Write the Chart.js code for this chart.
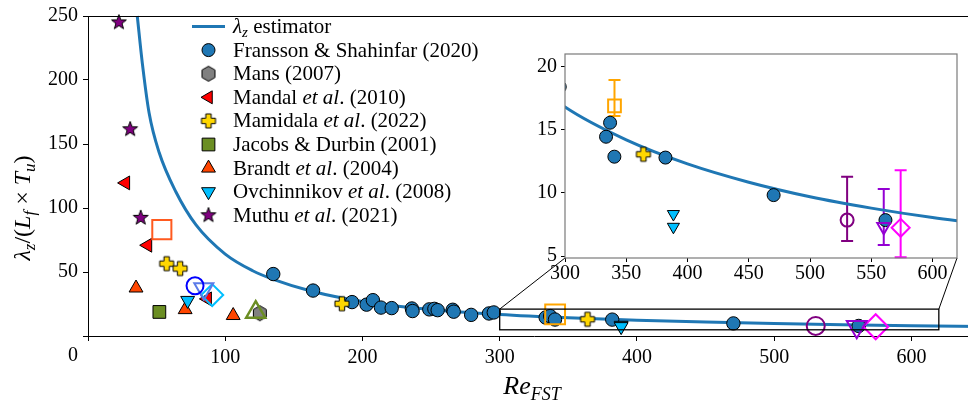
<!DOCTYPE html>
<html lang="en">
<head>
<meta charset="UTF-8">
<title>lambda_z estimator vs Re_FST</title>
<script src="https://cdn.jsdelivr.net/npm/chart.js"></script>
<style>
  html, body { margin: 0; padding: 0; background: #fff; overflow: hidden; }
  #wrap { position: relative; width: 968px; height: 410px; overflow: hidden; }
  #main { position: absolute; left: 0; top: 0; }
  #inset { position: absolute; left: 520px; top: 40px; }
</style>
</head>
<body>
<div id="wrap">
  <canvas id="main" width="996" height="410"></canvas>
  <canvas id="inset" width="448" height="250"></canvas>
</div>
<script>
// values
const estX = [35.9, 39.6, 44.5, 51.8, 64, 78.7, 100, 120, 135, 163, 200, 250, 300, 350, 400, 450, 500, 550, 600, 650];
const estY = [250, 213, 174.4, 143.5, 112.7, 86.8, 64, 51, 44.3, 35, 27, 20.7, 16.8, 14.2, 12.3, 10.85, 9.7, 8.8, 8.05, 7.45];

const fransX = [135, 164, 192.4, 203, 207.6, 213.5, 221.3, 236, 236.5, 248.7, 252.4, 254.8, 265.8, 266.5, 279.2, 292.2, 295.7, 333.5, 336.8, 340.3, 382, 470.3, 561.6];
const fransY = [48.4, 35.5, 26.5, 24.5, 28, 22.2, 21.8, 21.5, 19.5, 20.8, 21.2, 20.2, 20.5, 19, 16.5, 17.6, 18.4, 14.45, 15.56, 12.87, 12.8, 9.83, 7.85];
const mansX = [125.2];
const mansY = [17.8];
const mandalX = [27.4, 43.5, 87];
const mandalY = [119.6, 70.9, 29];
const mamidalaX = [57.3, 67.1, 185, 364];
const mamidalaY = [56.5, 52.7, 25.2, 13.06];
const jacobsX = [52];
const jacobsY = [18.8];
const brandtX = [35, 70.8, 105.8];
const brandtY = [37.5, 20.6, 16];
const ovchX = [72.6, 388.5, 388.5];
const ovchY = [27.8, 8.33, 7.32];
const muthuX = [22.5, 30.7, 38.4];
const muthuY = [245, 161.5, 92.3];

// unlabelled open markers
const openX = [53.8, 78, 84.4, 90.5, 122.2];
const openY = [83.1, 39.3, 37, 32, 18.6];
// open markers with error bars (shown in the inset)
const errX = [340.4, 530.3, 560.2, 574];
const errY = [16.9, 7.85, 7.32, 7.24];
const errLo = [16.1, 6.19, 5.87, 4.9];
const errHi = [18.95, 11.28, 10.31, 11.8];

const mainXTicks = [0, 100, 200, 300, 400, 500, 600];
const mainYTicks = [0, 50, 100, 150, 200, 250];
const insetXTicks = [300, 350, 400, 450, 500, 550, 600];
const insetYTicks = [5, 10, 15, 20];
const zoomBox = [300, 620, 4.85, 21];

const legendLabels = [
  [{t: 'Fransson & Shahinfar (2020)'}],
  [{t: 'Mans (2007)'}],
  [{t: 'Mandal '}, {t: 'et al', it: 1}, {t: '. (2010)'}],
  [{t: 'Mamidala '}, {t: 'et al', it: 1}, {t: '. (2022)'}],
  [{t: 'Jacobs & Durbin (2001)'}],
  [{t: 'Brandt '}, {t: 'et al', it: 1}, {t: '. (2004)'}],
  [{t: 'Ovchinnikov '}, {t: 'et al', it: 1}, {t: '. (2008)'}],
  [{t: 'Muthu '}, {t: 'et al', it: 1}, {t: '. (2021)'}]
];

const SERIF = '"Liberation Serif", "Times New Roman", serif';
Chart.defaults.font.family = SERIF;
Chart.defaults.color = '#000';

const pts = (xs, ys) => xs.map((x, i) => ({x: x, y: ys[i]}));

// little canvases for the marker shapes chart.js does not have
function makeMarker(size, path, fill) {
  const c = document.createElement('canvas');
  c.width = c.height = size;
  const g = c.getContext('2d');
  g.translate(size / 2, size / 2);
  g.beginPath();
  path(g);
  g.closePath();
  g.fillStyle = fill;
  g.fill();
  g.lineWidth = 1;
  g.strokeStyle = '#000';
  g.stroke();
  return c;
}
const starImg = makeMarker(18, g => {
  for (let i = 0; i < 10; i++) {
    const a = -Math.PI / 2 + i * Math.PI / 5, r = i % 2 ? 3.2 : 7.8;
    g.lineTo(r * Math.cos(a), r * Math.sin(a));
  }
}, '#800080');
const plusImg = makeMarker(18, g => {
  const L = 7, w = 2.7;
  [[-w,-L],[w,-L],[w,-w],[L,-w],[L,w],[w,w],[w,L],[-w,L],[-w,w],[-L,w],[-L,-w],[-w,-w]].forEach(p => g.lineTo(p[0], p[1]));
}, '#ffd700');
const hexImg = makeMarker(18, g => {
  for (let i = 0; i < 6; i++) {
    const a = -Math.PI / 2 + i * Math.PI / 3;
    g.lineTo(7.5 * Math.cos(a), 7.5 * Math.sin(a));
  }
}, '#808080');

function filled(xs, ys, style, color, r, rot) {
  return {
    data: pts(xs, ys), pointStyle: style, pointRadius: r, pointRotation: rot || 0,
    pointBackgroundColor: color, pointBorderColor: '#000', pointBorderWidth: 1, clip: false
  };
}
function open(x, y, style, color, r, rot, lw) {
  return {
    data: [{x: x, y: y}], pointStyle: style, pointRadius: r, pointRotation: rot || 0,
    pointBackgroundColor: 'rgba(0,0,0,0)', pointBorderColor: color, pointBorderWidth: lw || 2, clip: false
  };
}
function curve() {
  return {
    data: pts(estX, estY), showLine: true, borderColor: '#1f77b4', borderWidth: 3,
    pointRadius: 0, cubicInterpolationMode: 'monotone', clip: 0
  };
}

const openStyle = [['rect', '#ff5a1f', 13.5, 0, 2], ['circle', '#0000ff', 8.5, 0, 2],
  ['triangle', '#5b7be8', 11, 180, 2], ['rectRot', '#00bfff', 11, 0, 2], ['triangle', '#6b8e23', 11, 0, 2.5]];
const errColor = ['#ffa500', '#800080', '#9400d3', '#ff00ff'];
const errMain = [['rect', 14, 0], ['circle', 9, 0], ['triangle', 11.5, 180], ['rectRot', 12.5, 0]];
const errInset = [['rect', 9, 0], ['circle', 6.5, 0], ['triangle', 7.5, 180], ['rectRot', 9, 0]];

function fonts(sz, it) { return (it ? 'italic ' : '') + sz + 'px ' + SERIF; }
// draw a row of text pieces (italic / subscript)
function rich(ctx, parts, x, y, align, size) {
  let w = 0;
  parts.forEach(p => { ctx.font = fonts(p.sz || size, p.it); w += ctx.measureText(p.t).width; });
  let cx = align === 'center' ? x - w / 2 : x;
  ctx.textBaseline = 'alphabetic';
  ctx.textAlign = 'left';
  parts.forEach(p => {
    ctx.font = fonts(p.sz || size, p.it);
    ctx.fillText(p.t, cx, y + (p.dy || 0));
    cx += ctx.measureText(p.t).width;
  });
}

function tickScale(ticks) {
  return function (scale) { scale.ticks = ticks.map(v => ({value: v})); };
}

// nudge the layout padding until the plot area sits where the figure has it
function pinArea(chart, want) {
  const pad = chart.options.layout.padding;
  for (let k = 0; k < 3; k++) {
    const a = chart.chartArea;
    const dt = want.top - a.top, db = a.bottom - want.bottom;
    if (Math.abs(dt) < 0.3 && Math.abs(db) < 0.3) break;
    pad.top += dt;
    pad.bottom += db;
    chart.update();
  }
}

function draw() {
  // ---------- inset ----------
  const insetPlugin = {
    id: 'insetDeco',
    beforeDraw(chart) {
      const a = chart.chartArea, ctx = chart.ctx;
      ctx.save();
      ctx.fillStyle = '#fff';
      ctx.fillRect(a.left, a.top, a.right - a.left, a.bottom - a.top);
      ctx.restore();
    },
    beforeDatasetsDraw(chart) {
      const ctx = chart.ctx, xs = chart.scales.x, ys = chart.scales.y;
      ctx.save();
      ctx.lineWidth = 2;
      errX.forEach((x, i) => {
        const px = xs.getPixelForValue(x), lo = ys.getPixelForValue(errLo[i]), hi = ys.getPixelForValue(errHi[i]);
        ctx.strokeStyle = errColor[i];
        ctx.beginPath();
        ctx.moveTo(px, lo); ctx.lineTo(px, hi);
        ctx.moveTo(px - 6, lo); ctx.lineTo(px + 6, lo);
        ctx.moveTo(px - 6, hi); ctx.lineTo(px + 6, hi);
        ctx.stroke();
      });
      ctx.restore();
    },
    afterDraw(chart) {
      const a = chart.chartArea, ctx = chart.ctx;
      ctx.save();
      ctx.strokeStyle = '#7a7a7a';
      ctx.lineWidth = 1.2;
      ctx.strokeRect(a.left, a.top, a.right - a.left, a.bottom - a.top);
      ctx.restore();
    }
  };

  const insetSets = [];
  errX.forEach((x, i) => insetSets.push(open(x, errY[i], errInset[i][0], errColor[i], errInset[i][1], errInset[i][2], 2)));
  insetSets.push(filled(mamidalaX, mamidalaY, plusImg, '#ffd700', 7));
  insetSets.push(filled(ovchX, ovchY, 'triangle', '#00bfff', 7, 180));
  insetSets.push(filled(fransX, fransY, 'circle', '#1f77b4', 6.5));
  insetSets.push(curve());
  insetSets.forEach(d => { d.clip = 0; });

  const inset = new Chart(document.getElementById('inset'), {
    type: 'scatter',
    data: {datasets: insetSets},
    options: {
      responsive: false, animation: false, events: [],
      layout: {padding: {top: 14, right: 11, left: 0, bottom: 0}},
      plugins: {legend: {display: false}, tooltip: {enabled: false}},
      scales: {
        x: {
          min: zoomBox[0], max: zoomBox[1], afterBuildTicks: tickScale(insetXTicks),
          afterFit(s) { s.height = 32; s.paddingLeft = 0; s.paddingRight = 0; },
          ticks: {font: {size: 20}, padding: 0, color: '#000'},
          grid: {drawOnChartArea: false, tickLength: 4, tickColor: '#000'},
          border: {display: false}
        },
        y: {
          min: zoomBox[2], max: zoomBox[3], afterBuildTicks: tickScale(insetYTicks),
          afterFit(s) { s.width = 45; s.paddingTop = 0; s.paddingBottom = 0; },
          ticks: {font: {size: 20}, padding: 4, color: '#000'},
          grid: {drawOnChartArea: false, tickLength: 4, tickColor: '#000'},
          border: {display: false}
        }
      }
    },
    plugins: [insetPlugin]
  });
  pinArea(inset, {top: 14, bottom: 218});

  // ---------- main ----------
  const legendMarkers = [
    {pointStyle: 'circle', radius: 6.5, fill: '#1f77b4'},
    {pointStyle: hexImg},
    {pointStyle: 'triangle', radius: 7.5, rotation: -90, fill: '#ff0000'},
    {pointStyle: plusImg},
    {pointStyle: 'rect', radius: 9, fill: '#6b8e23'},
    {pointStyle: 'triangle', radius: 8, fill: '#ff4500'},
    {pointStyle: 'triangle', radius: 8, rotation: 180, fill: '#00bfff'},
    {pointStyle: starImg}
  ];

  const mainPlugin = {
    id: 'mainDeco',
    afterDatasetsDraw(chart) {
      const ctx = chart.ctx, xs = chart.scales.x, ys = chart.scales.y, a = chart.chartArea;
      ctx.save();
      // top spine
      ctx.strokeStyle = '#000';
      ctx.lineWidth = 1;
      ctx.beginPath();
      ctx.moveTo(a.left, a.top + 0.5); ctx.lineTo(a.right, a.top + 0.5);
      ctx.stroke();
      // zoom rectangle and connectors to the inset
      const x0 = xs.getPixelForValue(zoomBox[0]), x1 = xs.getPixelForValue(zoomBox[1]);
      const y0 = ys.getPixelForValue(zoomBox[2]), y1 = ys.getPixelForValue(zoomBox[3]);
      ctx.lineWidth = 1.3;
      ctx.strokeRect(x0, y1, x1 - x0, y0 - y1);
      const ia = inset.chartArea;
      ctx.lineWidth = 1;
      ctx.beginPath();
      ctx.moveTo(x0, y1); ctx.lineTo(520 + ia.left, 40 + ia.bottom);
      ctx.moveTo(x1, y1); ctx.lineTo(520 + ia.right, 40 + ia.bottom);
      ctx.stroke();
      ctx.restore();
    },
    afterDraw(chart) {
      const ctx = chart.ctx, xs = chart.scales.x, a = chart.chartArea;
      ctx.save();
      ctx.fillStyle = '#000';
      // "0" label sits left of its tick
      ctx.font = fonts(20);
      ctx.textAlign = 'center';
      ctx.textBaseline = 'top';
      ctx.fillText('0', xs.getPixelForValue(0) - 15, a.bottom + 10);
      // legend
      const lx = 192, rowY = 26.5, dy = 23.6;
      ctx.strokeStyle = '#1f77b4';
      ctx.lineWidth = 3;
      ctx.beginPath();
      ctx.moveTo(lx, rowY); ctx.lineTo(lx + 33, rowY);
      ctx.stroke();
      ctx.fillStyle = '#000';
      rich(ctx, [{t: 'λ', it: 1}, {t: 'z', it: 1, sz: 15, dy: 4}, {t: ' estimator'}], 233, rowY + 6.5, 'left', 21);
      legendLabels.forEach((parts, i) => {
        const y = rowY + dy * (i + 1);
        const m = legendMarkers[i];
        ctx.save();
        ctx.fillStyle = m.fill || '#000';
        ctx.strokeStyle = '#000';
        ctx.lineWidth = 1;
        Chart.helpers.drawPoint(ctx, {pointStyle: m.pointStyle, radius: m.radius || 7, rotation: m.rotation || 0, borderWidth: 1}, 208.5, y);
        ctx.restore();
        ctx.fillStyle = '#000';
        rich(ctx, parts, 233, y + 6.5, 'left', 21);
      });
      // axis titles
      rich(ctx, [{t: 'Re', it: 1}, {t: 'FST', it: 1, sz: 18, dy: 6}], 532, 394, 'center', 26);
      ctx.save();
      ctx.translate(30, 208);
      ctx.rotate(-Math.PI / 2);
      rich(ctx, [{t: 'λ', it: 1}, {t: 'z', it: 1, sz: 17, dy: 5}, {t: '/('}, {t: 'L', it: 1}, {t: 'f', it: 1, sz: 17, dy: 5},
        {t: ' × '}, {t: 'T', it: 1}, {t: 'u', it: 1, sz: 17, dy: 5}, {t: ')'}], 0, 0, 'center', 24);
      ctx.restore();
      ctx.restore();
    }
  };

  const mainSets = [];
  mainSets.push(filled(muthuX, muthuY, starImg, '#800080', 8));
  openX.forEach((x, i) => mainSets.push(open(x, openY[i], openStyle[i][0], openStyle[i][1], openStyle[i][2], openStyle[i][3], openStyle[i][4])));
  errX.forEach((x, i) => mainSets.push(open(x, errY[i], errMain[i][0], errColor[i], errMain[i][1], errMain[i][2], 2)));
  mainSets.push(filled(mandalX, mandalY, 'triangle', '#ff0000', 8, -90));
  mainSets.push(filled(ovchX, ovchY, 'triangle', '#00bfff', 8, 180));
  mainSets.push(filled(brandtX, brandtY, 'triangle', '#ff4500', 8));
  mainSets.push(filled(mamidalaX, mamidalaY, plusImg, '#ffd700', 7));
  mainSets.push(filled(mansX, mansY, hexImg, '#808080', 7));
  mainSets.push(filled(jacobsX, jacobsY, 'rect', '#6b8e23', 9));
  mainSets.push(filled(fransX, fransY, 'circle', '#1f77b4', 6.7));
  mainSets.push(Object.assign(curve(), {clip: false}));

  const main = new Chart(document.getElementById('main'), {
    type: 'scatter',
    data: {datasets: mainSets},
    options: {
      responsive: false, animation: false, events: [],
      layout: {padding: {top: 12, right: 0, left: 0, bottom: 0}},
      plugins: {legend: {display: false}, tooltip: {enabled: false}},
      scales: {
        x: {
          min: 0, max: 650, afterBuildTicks: tickScale(mainXTicks),
          afterFit(s) { s.height = 74; s.paddingLeft = 0; s.paddingRight = 0; },
          ticks: {font: {size: 20}, padding: 5, color: '#000', callback: v => v === 0 ? '' : v},
          grid: {drawOnChartArea: false, tickLength: 5, tickColor: '#000'},
          border: {display: true, color: '#000', width: 1}
        },
        y: {
          min: 0, max: 250, afterBuildTicks: tickScale(mainYTicks),
          afterFit(s) { s.width = 88; s.paddingTop = 0; s.paddingBottom = 0; },
          ticks: {font: {size: 20}, padding: 5, color: '#000', callback: v => v === 0 ? '' : v},
          grid: {drawOnChartArea: false, tickLength: 5, tickColor: '#000'},
          border: {display: true, color: '#000', width: 1}
        }
      }
    },
    plugins: [mainPlugin]
  });
  pinArea(main, {top: 12, bottom: 336});
}

// make sure the serif faces are ready before the canvas text is drawn
Promise.all([
  document.fonts.load('20px "Liberation Serif"'),
  document.fonts.load('italic 20px "Liberation Serif"')
]).then(draw, draw);
</script>
</body>
</html>
